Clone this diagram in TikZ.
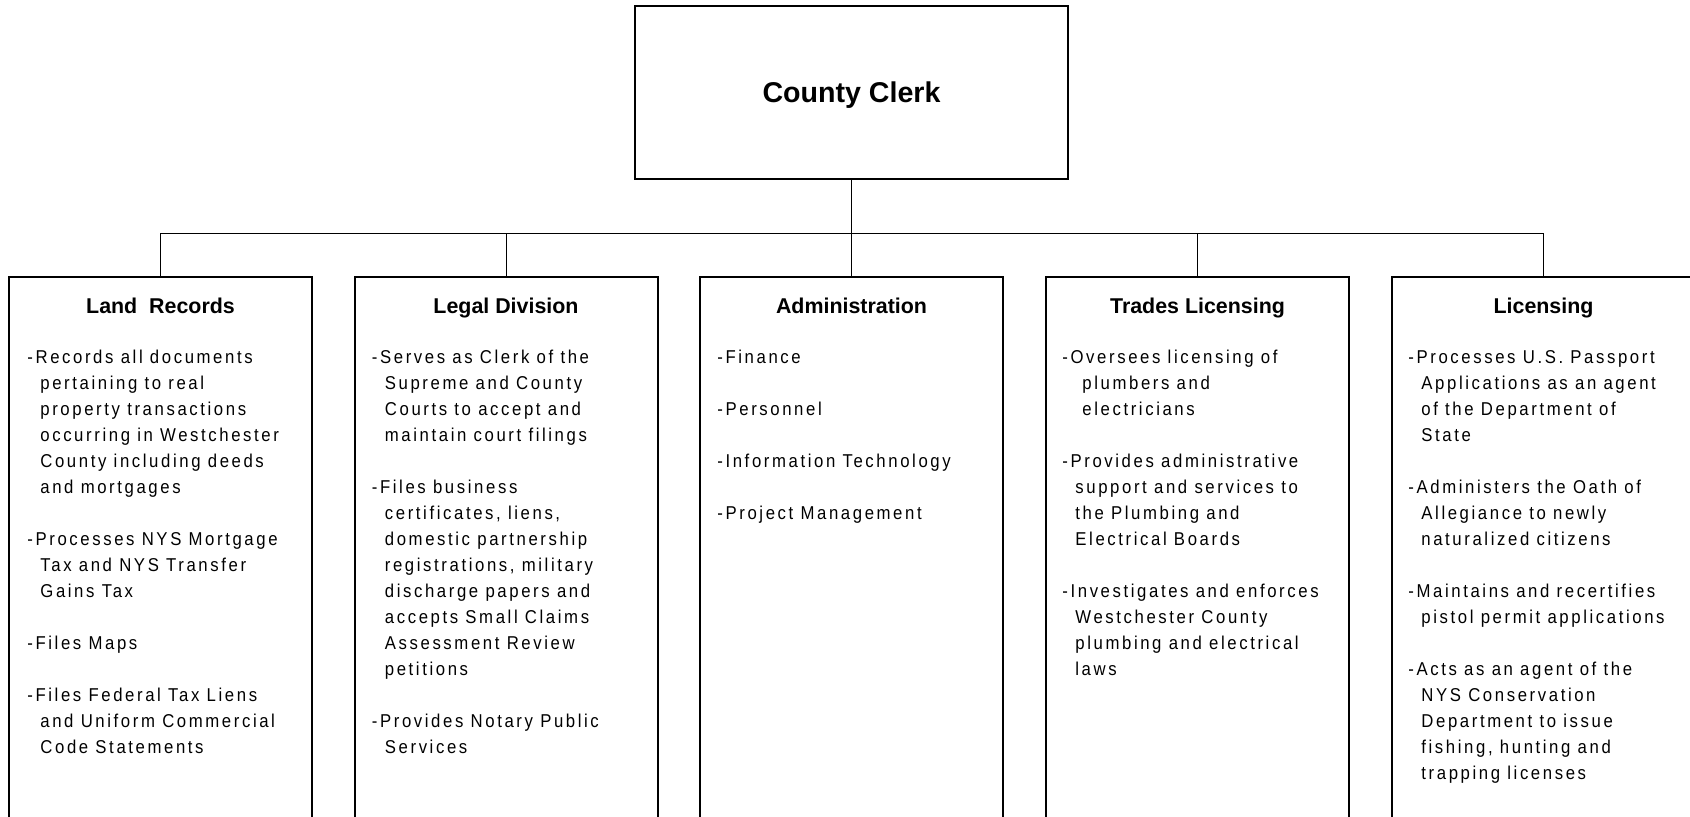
\documentclass[tikz,border=0pt]{standalone}
\usepackage{fontspec}
\setmainfont{Liberation Sans}
\newfontfamily\bodyfont{Liberation Sans}[FakeStretch=0.9,LetterSpace=14]
\usetikzlibrary{positioning}
\tikzset{
  unit/.style={draw,line width=1pt,minimum width=151.5pt,minimum height=282pt,anchor=north,inner sep=0pt},
  head/.style={font=\bfseries\fontsize{10.7}{12}\selectfont,inner sep=0pt},
  body/.style={font=\bodyfont\fontsize{9.3}{13}\selectfont,align=left,inner sep=0pt},
  link/.style={line width=0.5pt}
}
\newcommand{\ind}{\hspace*{6.5pt}}
\begin{document}
\begin{tikzpicture}[x=0.5pt,y=-0.5pt]
  \clip (0,0) rectangle (1690,816);
  \node[draw,line width=1pt,minimum width=216.5pt,minimum height=86.5pt,text depth=0pt,
    font=\bfseries\fontsize{14.3}{16}\selectfont] (clerk) at (851.5,92.5) {County Clerk};
  \node[unit] (land) at (160.5,276) {};
  \node[unit] (legal) at (506,276) {};
  \node[unit] (admin) at (851.5,276) {};
  \node[unit] (trades) at (1197.5,276) {};
  \node[unit] (lic) at (1543.5,276) {};
  \coordinate (bar) at (851.5,233);
  \draw[link] (clerk.south) -- (bar);
  \foreach \n in {land,legal,admin,trades,lic}
    \draw[link] (\n.north) |- (bar);
  \node[head,below=18.6pt of land.north,anchor=base] (landhd) {Land\ \ Records};
  \node[head,below=18.6pt of legal.north,anchor=base] (legalhd) {Legal Division};
  \node[head,below=18.6pt of admin.north,anchor=base] (adminhd) {Administration};
  \node[head,below=18.6pt of trades.north,anchor=base] (tradeshd) {Trades Licensing};
  \node[head,below=18.6pt of lic.north,anchor=base] (lichd) {Licensing};
  \node[body,below right=36.9pt and 9.5pt of land.north west,anchor=north west] (landtxt) {
    -Records all documents\\ \ind pertaining to real\\ \ind property transactions\\
    \ind occurring in Westchester\\ \ind County including deeds\\ \ind and mortgages\\[13pt]
    -Processes NYS Mortgage\\ \ind Tax and NYS Transfer\\ \ind Gains Tax\\[13pt]
    -Files Maps\\[13pt]
    -Files Federal Tax Liens\\ \ind and Uniform Commercial\\ \ind Code Statements};
  \node[body,below right=36.9pt and 9pt of legal.north west,anchor=north west] (legaltxt) {
    -Serves as Clerk of the\\ \ind Supreme and County\\ \ind Courts to accept and\\
    \ind maintain court filings\\[13pt]
    -Files business\\ \ind certificates, liens,\\ \ind domestic partnership\\
    \ind registrations, military\\ \ind discharge papers and\\ \ind accepts Small Claims\\
    \ind Assessment Review\\ \ind petitions\\[13pt]
    -Provides Notary Public\\ \ind Services};
  \node[body,below right=36.9pt and 9pt of admin.north west,anchor=north west] (admintxt) {
    -Finance\\[13pt] -Personnel\\[13pt] -Information Technology\\[13pt]
    -Project Management};
  \node[body,below right=36.9pt and 8.5pt of trades.north west,anchor=north west] (tradestxt) {
    -Oversees licensing of\\ \hspace*{10pt}plumbers and\\ \hspace*{10pt}electricians\\[13pt]
    -Provides administrative\\ \ind support and services to\\ \ind the Plumbing and\\
    \ind Electrical Boards\\[13pt]
    -Investigates and enforces\\ \ind Westchester County\\ \ind plumbing and electrical\\
    \ind laws};
  \node[body,below right=36.9pt and 8.5pt of lic.north west,anchor=north west] (lictxt) {
    -Processes U.S. Passport\\ \ind Applications as an agent\\ \ind of the Department of\\
    \ind State\\[13pt]
    -Administers the Oath of\\ \ind Allegiance to newly\\ \ind naturalized citizens\\[13pt]
    -Maintains and recertifies\\ \ind pistol permit applications\\[13pt]
    -Acts as an agent of the\\ \ind NYS Conservation\\ \ind Department to issue\\
    \ind fishing, hunting and\\ \ind trapping licenses};
\end{tikzpicture}
\end{document}
